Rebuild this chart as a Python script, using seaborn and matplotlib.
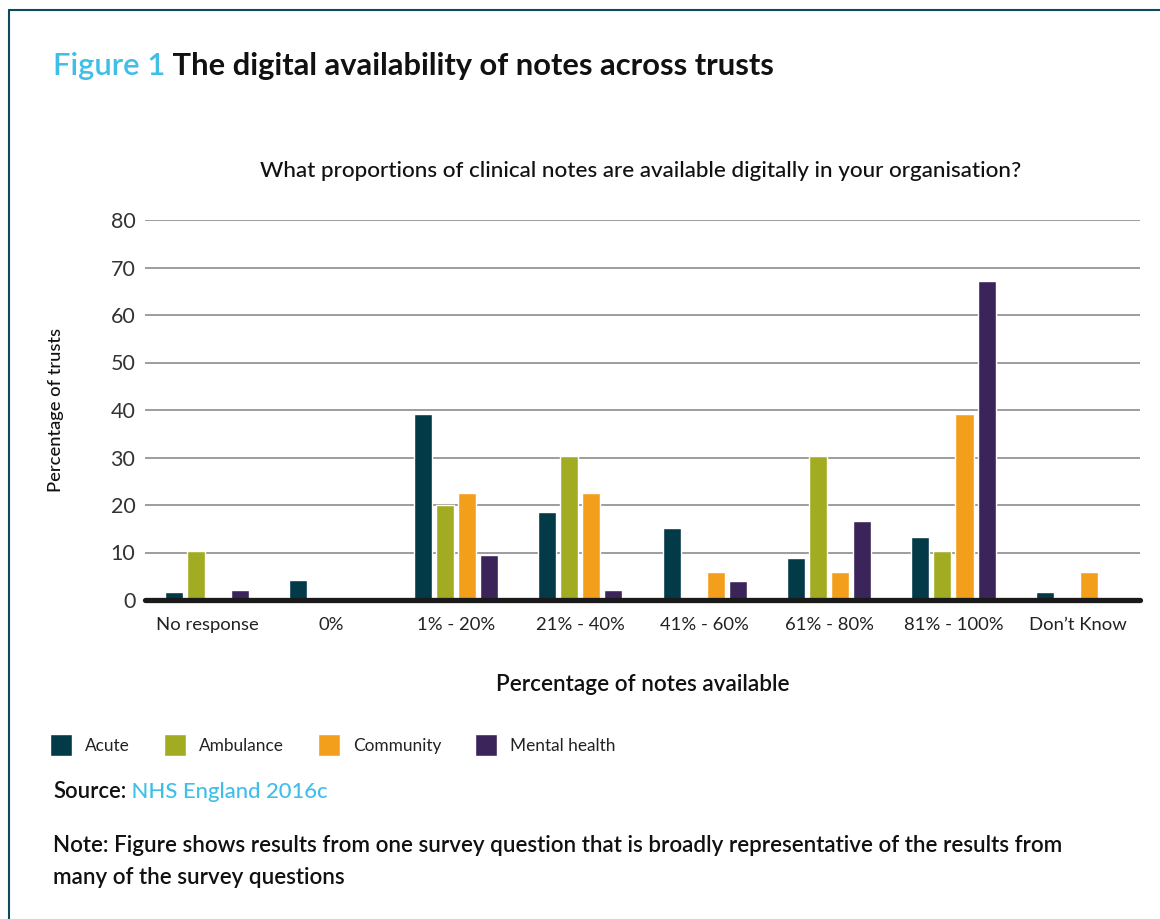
import matplotlib
matplotlib.use("Agg")
import matplotlib.pyplot as plt
import seaborn as sns
import pandas as pd
from matplotlib.lines import Line2D

categories = ["No response", "0%", "1% - 20%", "21% - 40%", "41% - 60%",
              "61% - 80%", "81% - 100%", "Don\u2019t Know"]
acute = [1.7, 4.2, 39.1, 18.5, 15.1, 8.8, 13.2, 1.7]
ambulance = [10.3, 0, 20.1, 30.3, 0, 30.3, 10.3, 0]
community = [0, 0, 22.5, 22.5, 5.9, 5.9, 39.1, 5.9]
mental_health = [2.1, 0, 9.5, 2.1, 4.0, 16.6, 67.2, 0]
series_names = ["Acute", "Ambulance", "Community", "Mental health"]
colors = ["#023a47", "#a2ac22", "#f49f1c", "#3b2459"]
yticks = [0, 10, 20, 30, 40, 50, 60, 70, 80]

rows = []
for name, vals in zip(series_names, [acute, ambulance, community, mental_health]):
    for c, v in zip(categories, vals):
        rows.append({"category": c, "series": name, "value": v})
df = pd.DataFrame(rows)

sns.set_theme(style="white")
FONT = "Lato"
plt.rcParams["font.family"] = [FONT, "DejaVu Sans"]

fig = plt.figure(figsize=(11.6, 9.19), dpi=100)
ax = fig.add_axes([145 / 1160, 1 - 600 / 919, (1140 - 145) / 1160, (600 - 220) / 919])

sns.barplot(data=df, x="category", y="value", hue="series", order=categories,
            hue_order=series_names, palette=colors, width=0.71, gap=0.18,
            saturation=1, ax=ax, legend=True)

ax.set_ylim(0, 80)
ax.set_xlim(-0.5, len(categories) - 0.5)
ax.set_yticks(yticks)
ax.set_yticklabels([str(t) for t in yticks])
ax.yaxis.grid(True, color="#8c8c8c", linewidth=1.2)
ax.set_axisbelow(True)
for s in ax.spines.values():
    s.set_visible(False)
ax.axhline(0, color="#1a1a1a", linewidth=3.8, zorder=5, clip_on=False)
ax.tick_params(axis="y", length=0, pad=7, labelsize=15.5, labelcolor="#333333")
ax.tick_params(axis="x", length=0, pad=12, labelsize=13.3, labelcolor="#222222")
ax.set_xlabel("Percentage of notes available", fontsize=16.2, fontweight="semibold",
              color="#111111")
ax.xaxis.set_label_coords(0.5, -0.195)
ax.set_ylabel("Percentage of trusts", fontsize=13.2, fontweight="medium",
              color="#111111")
ax.yaxis.set_label_coords(-0.081, 0.5)

handles, labels = ax.get_legend_handles_labels()
ax.get_legend().remove()
fig.legend(handles, labels, loc="center left", bbox_to_anchor=(50 / 1160, 1 - 745 / 919),
           ncol=4, frameon=False, fontsize=12.4, handlelength=1.28, handleheight=1.59,
           columnspacing=1.98, handletextpad=0.75, borderpad=0, borderaxespad=0,
           labelcolor="#222222")

# Titles and notes
t1 = fig.text(53 / 1160, 1 - 66 / 919, "Figure 1", color="#3fbfe8", fontsize=22.2,
              fontweight="semibold", va="center", ha="left")
ax.annotate(" The digital availability of notes across trusts", xy=(1, 0),
            xycoords=t1, va="bottom", ha="left", fontsize=22.2, fontweight="bold",
            color="#111111")
fig.text(641 / 1160, 1 - 171 / 919,
         "What proportions of clinical notes are available digitally in your organisation?",
         ha="center", va="center", fontsize=16.2, fontweight="medium", color="#111111")
s1 = fig.text(53 / 1160, 1 - 792 / 919, "Source:", color="#111111", fontsize=15.8,
              fontweight="semibold", va="center", ha="left")
ax.annotate(" NHS England 2016c", xy=(1, 0), xycoords=s1, va="bottom", ha="left",
            fontsize=15.8, fontweight="medium", color="#3fbfe8")
fig.text(53 / 1160, 1 - 846 / 919,
         "Note: Figure shows results from one survey question that is broadly representative of the results from",
         ha="left", va="center", fontsize=16.1, fontweight="semibold", color="#111111")
fig.text(53 / 1160, 1 - 878 / 919, "many of the survey questions",
         ha="left", va="center", fontsize=16.1, fontweight="semibold", color="#111111")

# Frame border
fig.add_artist(Line2D([9 / 1160, 9 / 1160], [0, 1 - 10 / 919], transform=fig.transFigure,
                      color="#0d4a5c", linewidth=1.5))
fig.add_artist(Line2D([9 / 1160, 1], [1 - 10 / 919, 1 - 10 / 919], transform=fig.transFigure,
                      color="#0d4a5c", linewidth=1.5))

fig.savefig("out.png", dpi=100, facecolor="white")
